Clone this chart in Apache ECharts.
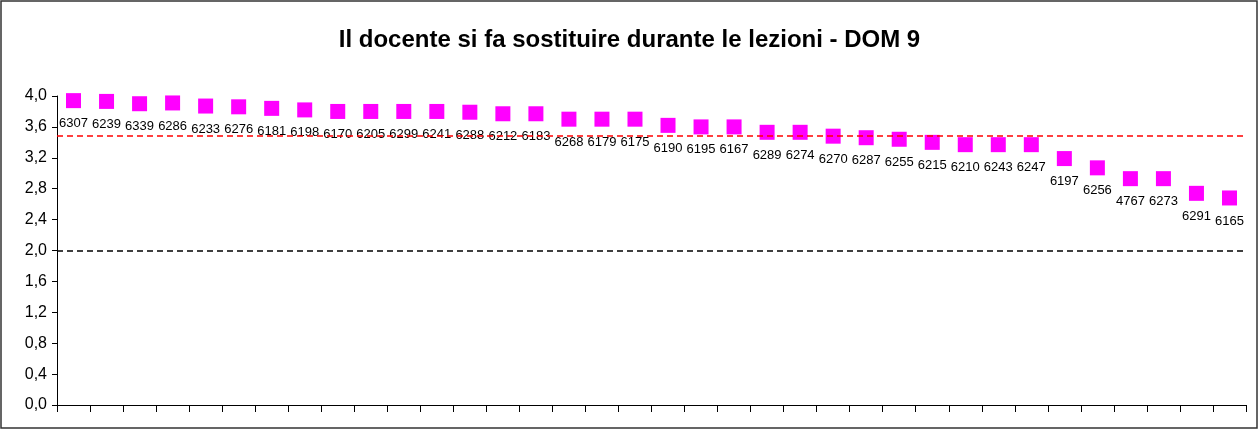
<!DOCTYPE html>
<html>
<head>
<meta charset="utf-8">
<script src="https://cdn.jsdelivr.net/npm/echarts@6/dist/echarts.min.js"></script>
<style>
  html, body { margin: 0; padding: 0; background: #fff; }
  #chart { width: 1259px; height: 430px; }
</style>
</head>
<body>
<div id="chart"></div>
<script>
// codici dei docenti, nell'ordine del grafico
var docenti = ['6307', '6239', '6339', '6286', '6233', '6276', '6181', '6198', '6170', '6205',
  '6299', '6241', '6288', '6212', '6183', '6268', '6179', '6175', '6190', '6195',
  '6167', '6289', '6274', '6270', '6287', '6255', '6215', '6210', '6243', '6247',
  '6197', '6256', '4767', '6273', '6291', '6165']
var punteggi = [3.94, 3.93, 3.90, 3.91, 3.87, 3.86, 3.84, 3.82, 3.80, 3.80,
  3.80, 3.80, 3.79, 3.77, 3.77, 3.70, 3.70, 3.70, 3.62, 3.60,
  3.60, 3.53, 3.53, 3.48, 3.46, 3.44, 3.40, 3.37, 3.37, 3.37,
  3.19, 3.07, 2.93, 2.93, 2.74, 2.68]
var yTicks = [0, 0.4, 0.8, 1.2, 1.6, 2.0, 2.4, 2.8, 3.2, 3.6, 4.0]
var media = 3.49
var soglia = 2.0

var myChart = echarts.init(document.getElementById('chart'))
var option = {
  animation: false,
  title: {
    text: 'Il docente si fa sostituire durante le lezioni - DOM 9',
    left: 'center',
    top: 23,
    textStyle: {
      fontFamily: 'Liberation Sans, Arial, sans-serif',
      fontSize: 24,
      fontWeight: 'bold',
      color: '#000'
    }
  },
  graphic: [{
    type: 'rect',
    shape: { x: 1, y: 1, width: 1256, height: 427 },
    style: { fill: 'none', stroke: '#333', lineWidth: 1.5 },
    silent: true
  }],
  grid: {
    left: 57,
    right: 13,
    top: 96,
    bottom: 25
  },
  xAxis: {
    type: 'category',
    data: docenti,
    boundaryGap: true,
    axisLine: { lineStyle: { color: '#000', width: 1 } },
    axisTick: { show: true, interval: 0, length: 7, lineStyle: { color: '#000' } },
    axisLabel: { show: false },
    splitLine: { show: false }
  },
  yAxis: {
    type: 'value',
    min: 0,
    max: 4.0,
    interval: 0.4,
    axisLine: { show: true, lineStyle: { color: '#000', width: 1 } },
    axisTick: { show: true, length: 5, lineStyle: { color: '#000' } },
    axisLabel: {
      margin: 10,
      fontFamily: 'Liberation Sans, Arial, sans-serif',
      fontSize: 16,
      color: '#000',
      formatter: function(v) {
        var t = yTicks.find(function(x) { return Math.abs(x - v) < 1e-6 })
        return (t !== undefined ? t : v).toFixed(1).replace('.', ',')
      }
    },
    splitLine: { show: false }
  },
  series: [{
    type: 'scatter',
    data: punteggi,
    symbol: 'rect',
    symbolSize: 15,
    itemStyle: { color: '#ff00ff', opacity: 1 },
    label: {
      show: true,
      position: 'bottom',
      distance: 9,
      formatter: '{b}',
      fontFamily: 'Liberation Sans, Arial, sans-serif',
      fontSize: 13,
      color: '#000'
    },
    markLine: {
      silent: true,
      symbol: 'none',
      label: { show: false },
      data: [
        { yAxis: media, lineStyle: { color: '#ff0000', type: [6, 4], width: 1.5 } },
        { yAxis: soglia, lineStyle: { color: '#000', type: [6, 4], width: 1.5 } }
      ]
    }
  }]
}
myChart.setOption(option)
</script>
</body>
</html>
